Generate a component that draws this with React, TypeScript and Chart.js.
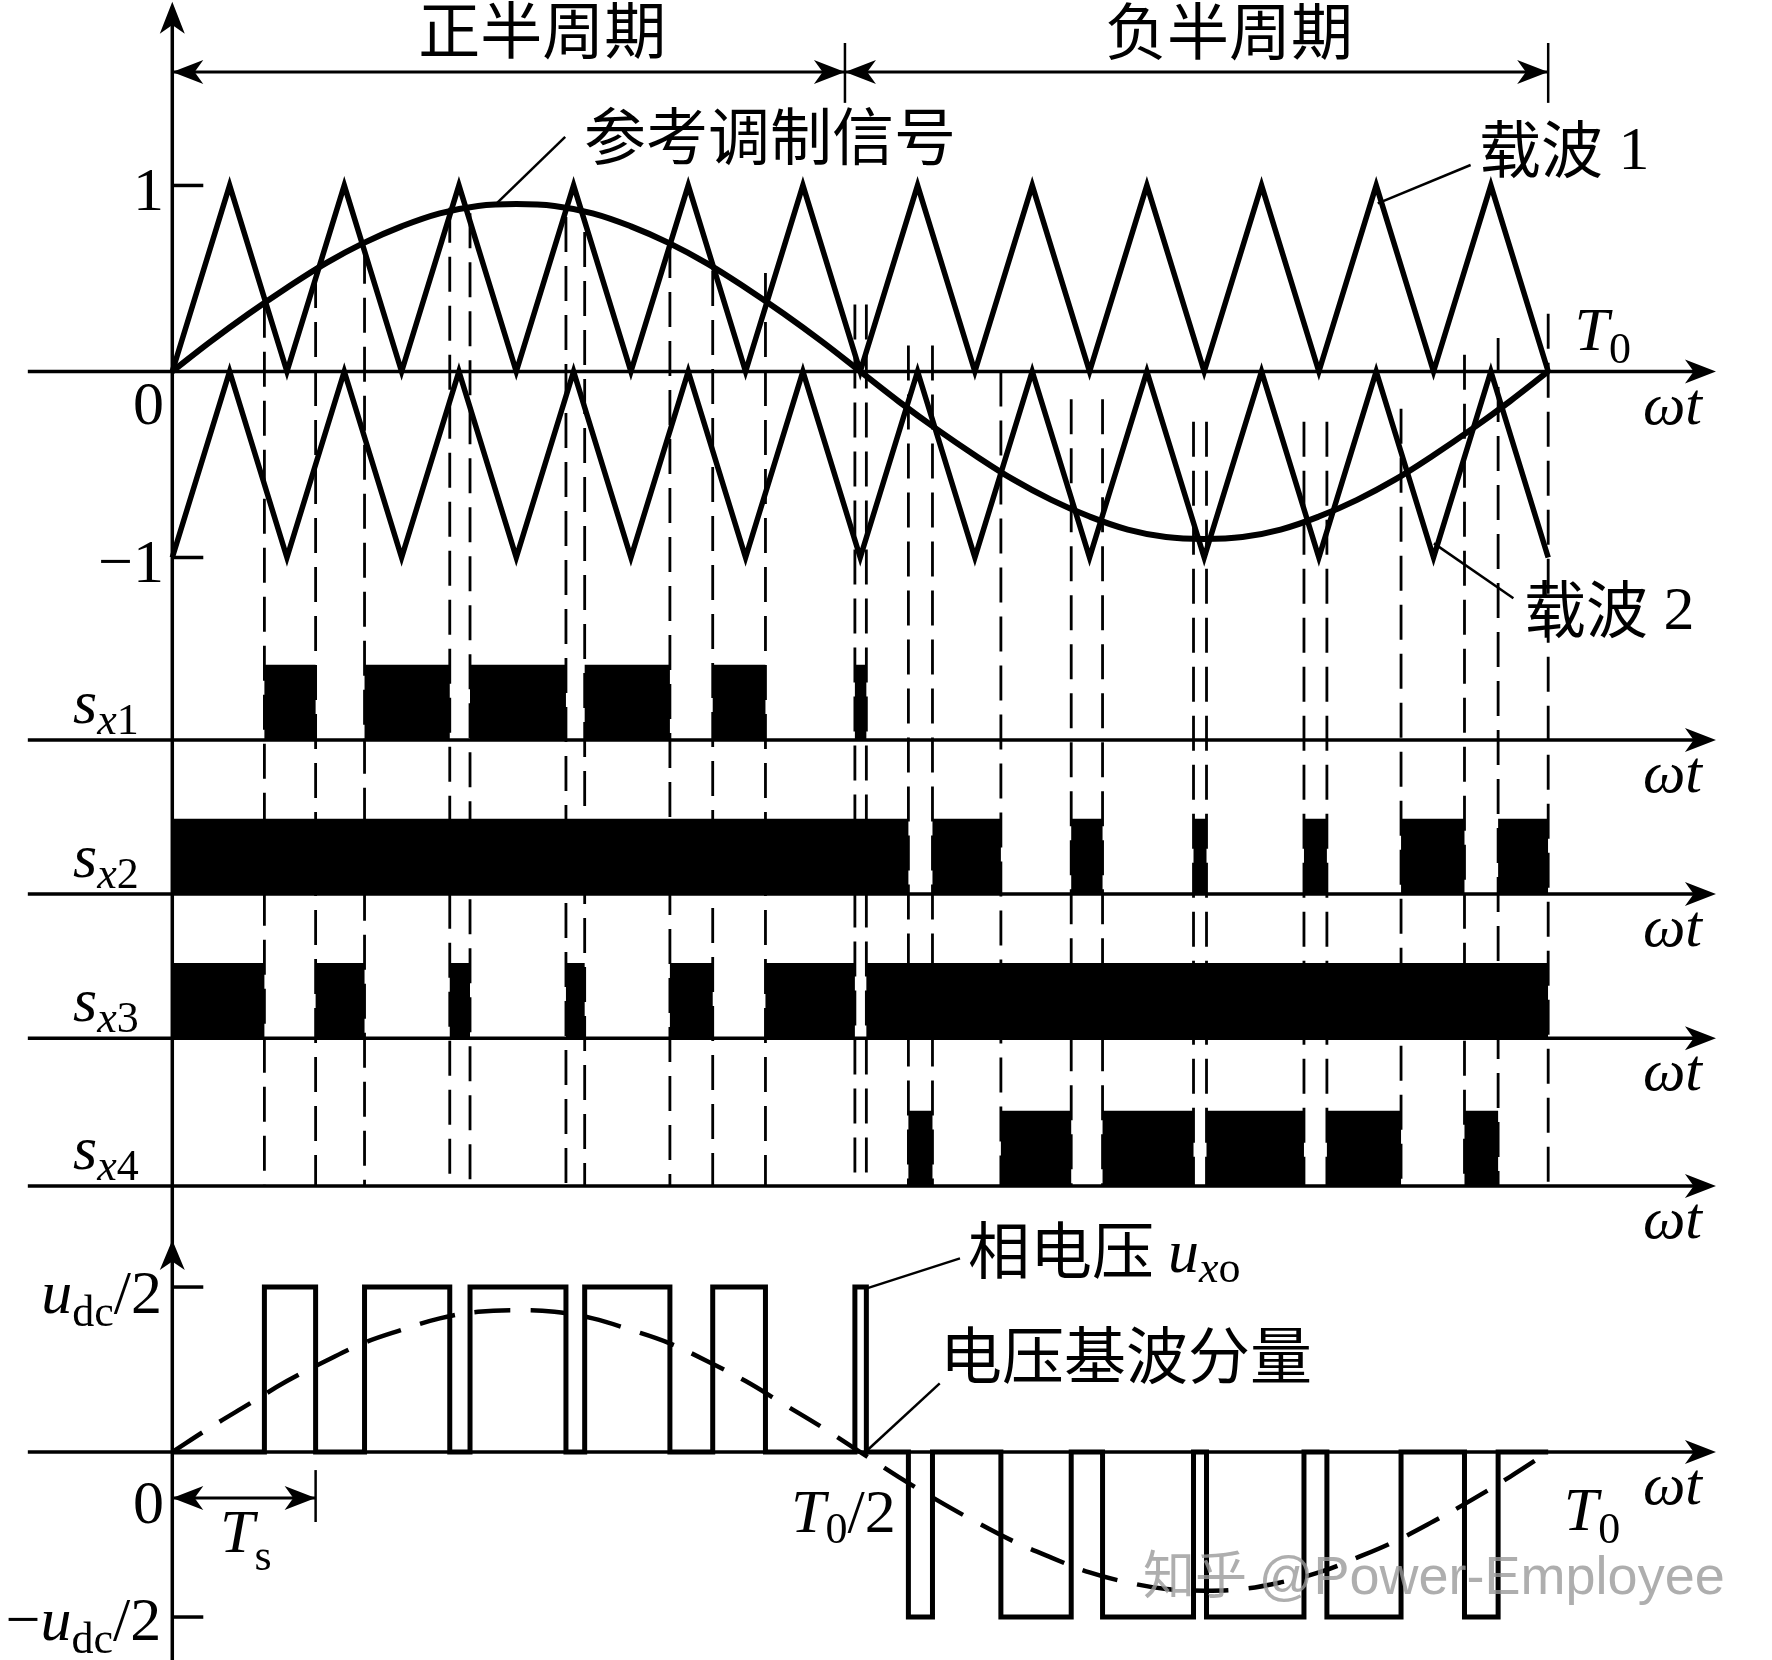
import { useEffect, useRef } from "react";
import { Chart, registerables } from "chart.js";

Chart.register(...registerables);

// ---------------- data (ωt in degrees, T0 = 360°) ----------------
const carrierAngles = [0, 15, 30, 45, 60, 75, 90, 105, 120, 135, 150, 165, 180, 195, 210, 225, 240, 255, 270, 285, 300, 315, 330, 345, 360];
const carrier1 = [0, 1, 0, 1, 0, 1, 0, 1, 0, 1, 0, 1, 0, 1, 0, 1, 0, 1, 0, 1, 0, 1, 0, 1, 0];
const carrier2 = [-1, 0, -1, 0, -1, 0, -1, 0, -1, 0, -1, 0, -1, 0, -1, 0, -1, 0, -1, 0, -1, 0, -1, 0, -1];

const refAngles = [0, 10, 20, 30, 40, 50, 60, 70, 80, 90, 100, 110, 120, 130, 140, 150, 160, 170, 180, 190, 200, 210, 220, 230, 240, 250, 260, 270, 280, 290, 300, 310, 320, 330, 340, 350, 360];
const refSignal = [0, 0.16, 0.31, 0.45, 0.58, 0.69, 0.78, 0.85, 0.89, 0.9, 0.89, 0.85, 0.78, 0.69, 0.58, 0.45, 0.31, 0.16, 0, -0.16, -0.31, -0.45, -0.58, -0.69, -0.78, -0.85, -0.89, -0.9, -0.89, -0.85, -0.78, -0.69, -0.58, -0.45, -0.31, -0.16, 0];
// fundamental of phase voltage, in units of udc/2
const fundamental = [0, 0.15, 0.29, 0.43, 0.55, 0.66, 0.74, 0.81, 0.85, 0.86, 0.85, 0.81, 0.74, 0.66, 0.55, 0.43, 0.29, 0.15, 0, -0.15, -0.29, -0.42, -0.54, -0.64, -0.73, -0.79, -0.83, -0.84, -0.83, -0.79, -0.73, -0.64, -0.54, -0.42, -0.29, -0.15, 0];

// switching intervals (on-states)
const sx1On: [number, number][] = [[24.1, 37.5], [50.3, 72.6], [77.9, 103.0], [107.9, 130.2], [141.4, 155.2], [178.6, 181.6]];
const sx2On: [number, number][] = [[0, 192.6], [198.9, 216.8], [235.2, 243.4], [267.2, 270.6], [296.1, 302.1], [321.5, 338.1], [346.9, 360]];
const sx3On: [number, number][] = [[0, 24.1], [37.5, 50.3], [72.6, 77.9], [103.0, 107.9], [130.2, 141.4], [155.2, 178.6], [181.6, 360]];
const sx4On: [number, number][] = [[192.6, 198.9], [216.8, 235.2], [243.4, 267.2], [270.6, 296.1], [302.1, 321.5], [338.1, 346.9]];

// dashed switching-instant lines: angle and where they start (top-panel units)
const switchAngles = [24.1, 37.5, 50.3, 72.6, 77.9, 103.0, 107.9, 130.2, 141.4, 155.2, 178.6, 181.6, 192.6, 198.9, 216.8, 235.2, 243.4, 267.2, 270.6, 296.1, 302.1, 321.5, 338.1, 346.9, 360];
const switchTops = [0.37, 0.53, 0.66, 0.88, 0.85, 0.83, 0.75, 0.69, 0.54, 0.53, 0.36, 0.36, 0.14, 0.14, 0.0, -0.15, -0.15, -0.27, -0.27, -0.27, -0.27, -0.2, 0.09, 0.18, 0.31];

// ---------------- layout (value space) ----------------
const X_MIN = -45.08;
const X_MAX = 418.56;
const Y_MIN = -6.927;
const Y_MAX = 1.997;
const ROW_SX1 = -1.981;
const ROW_SX2 = -2.809;
const ROW_SX3 = -3.585;
const ROW_SX4 = -4.379;
const OUT_BASE = -5.809;
const OUT_SCALE = 0.887;
const PULSE_H = 0.405;
const AXIS_START = -37.8;
const AXIS_TIP = 403.9;

const SERIF = "'Liberation Serif', 'Times New Roman', serif";
const CJK = "'Noto Sans CJK SC', 'Noto Sans CJK JP', sans-serif";
const SANS = "'Liberation Sans', Arial, sans-serif";

type Pt = { x: number; y: number | null };

function pulsePoints(on: [number, number][], base: number): Pt[] {
  const pts: Pt[] = [{ x: 0, y: base }];
  for (const [s, e] of on) {
    pts.push({ x: s, y: base }, { x: s, y: base + PULSE_H }, { x: e, y: base + PULSE_H }, { x: e, y: base });
  }
  pts.push({ x: 360, y: base });
  return pts;
}

function outputPoints(): Pt[] {
  const segs = [
    ...sx1On.map(([s, e]) => ({ s, e, v: 1 })),
    ...sx4On.map(([s, e]) => ({ s, e, v: -1 })),
  ].sort((a, b) => a.s - b.s);
  const pts: Pt[] = [{ x: 0, y: OUT_BASE }];
  for (const g of segs) {
    const lvl = OUT_BASE + g.v * OUT_SCALE;
    pts.push({ x: g.s, y: OUT_BASE }, { x: g.s, y: lvl }, { x: g.e, y: lvl }, { x: g.e, y: OUT_BASE });
  }
  pts.push({ x: 360, y: OUT_BASE });
  return pts;
}

type Part = { t: string; f: string; dy?: number };
function rich(ctx: CanvasRenderingContext2D, parts: Part[], x: number, y: number, align: "left" | "center" | "right") {
  let w = 0;
  for (const p of parts) {
    ctx.font = p.f;
    w += ctx.measureText(p.t).width;
  }
  let cx = align === "left" ? x : align === "center" ? x - w / 2 : x - w;
  ctx.textAlign = "left";
  ctx.textBaseline = "alphabetic";
  for (const p of parts) {
    ctx.font = p.f;
    ctx.fillText(p.t, cx, y + (p.dy || 0));
    cx += ctx.measureText(p.t).width;
  }
}

function arrowHead(ctx: CanvasRenderingContext2D, tx: number, ty: number, dx: number, dy: number, len = 31, half = 12) {
  const px = -dy, py = dx;
  ctx.beginPath();
  ctx.moveTo(tx, ty);
  ctx.lineTo(tx - dx * len + px * half, ty - dy * len + py * half);
  ctx.lineTo(tx - dx * len * 0.72, ty - dy * len * 0.72);
  ctx.lineTo(tx - dx * len - px * half, ty - dy * len - py * half);
  ctx.closePath();
  ctx.fill();
}

const annotate = {
  id: "annotate",
  afterDatasetsDraw(chart: any) {
    const ctx: CanvasRenderingContext2D = chart.ctx;
    const xs = chart.scales.x;
    const ys = chart.scales.y;
    const X = (v: number) => xs.getPixelForValue(v);
    const Y = (v: number) => ys.getPixelForValue(v);
    ctx.save();
    ctx.fillStyle = "#000";
    ctx.strokeStyle = "#000";
    ctx.lineCap = "butt";

    const seg = (x1: number, y1: number, x2: number, y2: number, w: number) => {
      ctx.lineWidth = w;
      ctx.beginPath();
      ctx.moveTo(x1, y1);
      ctx.lineTo(x2, y2);
      ctx.stroke();
    };

    // axis arrowheads
    arrowHead(ctx, X(0), Y(1.987), 0, -1, 32, 12.5);
    arrowHead(ctx, X(0), Y(-4.669), 0, -1, 30, 12.5);
    for (const b of [0, ROW_SX1, ROW_SX2, ROW_SX3, ROW_SX4, OUT_BASE]) {
      arrowHead(ctx, X(AXIS_TIP), Y(b), 1, 0);
    }

    // y-axis ticks
    const tickLen = 31;
    for (const v of [1, -1, OUT_BASE + OUT_SCALE, OUT_BASE - OUT_SCALE]) {
      seg(X(0), Y(v), X(0) + tickLen, Y(v), 3.5);
    }

    // half-period dimension arrows
    const yT = Y(1.61);
    seg(X(0), yT, X(176), yT, 3);
    seg(X(176), yT, X(360), yT, 3);
    arrowHead(ctx, X(0), yT, -1, 0);
    arrowHead(ctx, X(176), yT, 1, 0);
    arrowHead(ctx, X(176), yT, -1, 0);
    arrowHead(ctx, X(360), yT, 1, 0);
    seg(X(176), Y(1.766), X(176), Y(1.444), 2.5);
    seg(X(360), Y(1.766), X(360), Y(1.444), 2.5);

    // Ts dimension arrow
    const yS = Y(-6.056);
    seg(X(0), yS, X(37.5), yS, 3);
    arrowHead(ctx, X(0), yS, -1, 0);
    arrowHead(ctx, X(37.5), yS, 1, 0);
    seg(X(37.5), Y(-5.906), X(37.5), Y(-6.185), 2.5);

    // leader lines
    seg(X(102.8), Y(1.261), X(85.0), Y(0.906), 2.5);
    seg(X(339.7), Y(1.11), X(315.4), Y(0.904), 2.5);
    seg(X(330.1), Y(-0.924), X(350.9), Y(-1.219), 2.5);
    seg(X(181.7), Y(-4.929), X(206.1), Y(-4.768), 2.5);
    seg(X(200.8), Y(-5.44), X(180.5), Y(-5.825), 2.5);

    // texts
    const cjk = `62px ${CJK}`;
    const sMain = `62px ${SERIF}`;
    const sIt = `italic 62px ${SERIF}`;
    const sSub = `44px ${SERIF}`;
    const sSubIt = `italic 44px ${SERIF}`;

    rich(ctx, [{ t: "正半周期", f: cjk }], X(96.8), Y(1.707), "center");
    rich(ctx, [{ t: "负半周期", f: cjk }], X(276.5), Y(1.702), "center");
    rich(ctx, [{ t: "参考调制信号", f: cjk }], X(156.4), Y(1.137), "center");
    rich(ctx, [{ t: "载波", f: cjk }, { t: " 1", f: sMain, dy: -4 }], X(341.9), Y(1.067), "left");
    rich(ctx, [{ t: "载波", f: cjk }, { t: " 2", f: sMain, dy: -4 }], X(353.7), Y(-1.406), "left");
    rich(ctx, [{ t: "相电压 ", f: cjk }, { t: "u", f: sIt, dy: -2 }, { t: "x", f: sSubIt, dy: 8 }, { t: "o", f: sSub, dy: 8 }], X(208.2), Y(-4.852), "left");
    rich(ctx, [{ t: "电压基波分量", f: cjk }], X(200.9), Y(-5.417), "left");

    // y tick labels
    const R = X(-2.17);
    rich(ctx, [{ t: "1", f: sMain }], R, Y(0.868), "right");
    rich(ctx, [{ t: "0", f: sMain }], R, Y(-0.282), "right");
    rich(ctx, [{ t: "\u22121", f: sMain }], R, Y(-1.132), "right");
    rich(ctx, [{ t: "0", f: sMain }], R, Y(-6.191), "right");
    rich(ctx, [{ t: "u", f: sIt }, { t: "dc", f: sSub, dy: 13 }, { t: "/2", f: sMain }], X(-2.7), Y(-5.062), "right");
    rich(ctx, [{ t: "\u2212", f: sMain }, { t: "u", f: sIt }, { t: "dc", f: sSub, dy: 13 }, { t: "/2", f: sMain }], X(-2.9), Y(-6.82), "right");

    // switch labels
    const rows: [number, string][] = [[ROW_SX1, "1"], [ROW_SX2, "2"], [ROW_SX3, "3"], [ROW_SX4, "4"]];
    for (const [b, n] of rows) {
      rich(ctx, [{ t: "s", f: `italic 62px ${SERIF}` }, { t: "x", f: sSubIt, dy: 11 }, { t: n, f: sSub, dy: 11 }], X(-25.98), Y(b + 0.091), "left");
    }

    // ωt labels
    for (const b of [0, ROW_SX1, ROW_SX2, ROW_SX3, ROW_SX4, OUT_BASE]) {
      rich(ctx, [{ t: "\u03c9t", f: `italic 60px ${SERIF}` }], X(384.8), Y(b - 0.28), "left");
    }

    // time labels
    rich(ctx, [{ t: "T", f: sIt }, { t: "0", f: sSub, dy: 13 }], X(366.9), Y(0.116), "left");
    rich(ctx, [{ t: "T", f: sIt }, { t: "0", f: sSub, dy: 11 }, { t: "/2", f: sMain }], X(161.9), Y(-6.239), "left");
    rich(ctx, [{ t: "T", f: sIt }, { t: "0", f: sSub, dy: 13 }], X(364.1), Y(-6.228), "left");
    rich(ctx, [{ t: "T", f: sIt }, { t: "s", f: sSub, dy: 18 }], X(12.5), Y(-6.347), "left");

    // watermark
    ctx.globalAlpha = 0.8;
    ctx.fillStyle = "#9a9a9a";
    rich(ctx, [{ t: "知乎 ", f: `52px ${CJK}` }, { t: "@Power-Employee", f: `54px ${SANS}` }], X(254.0), Y(-6.57), "left");
    ctx.restore();
  },
};

export default function App() {
  const ref = useRef<HTMLCanvasElement | null>(null);
  useEffect(() => {
    document.body.style.margin = "0";
    const canvas = ref.current;
    if (!canvas) return;

    const base = {
      borderColor: "#000",
      backgroundColor: "#000",
      pointRadius: 0,
      borderWidth: 3,
      tension: 0,
      fill: false,
      borderCapStyle: "butt",
      borderJoinStyle: "miter",
    };
    const ds = (data: Pt[], extra: any = {}) => ({ ...base, data, ...extra });

    const datasets: any[] = [];
    datasets.push(ds(outputPoints(), { borderWidth: 5 }));
    datasets.push(ds(refAngles.map((a, i) => ({ x: a, y: OUT_BASE + fundamental[i] * OUT_SCALE })), { borderWidth: 4.5, borderDash: [36, 20], tension: 0.4, borderJoinStyle: "round" }));
    datasets.push(ds(refAngles.map((a, i) => ({ x: a, y: refSignal[i] })), { borderWidth: 6, tension: 0.4, borderJoinStyle: "round" }));
    datasets.push(ds(carrierAngles.map((a, i) => ({ x: a, y: carrier1[i] })), { borderWidth: 5.5 }));
    datasets.push(ds(carrierAngles.map((a, i) => ({ x: a, y: carrier2[i] })), { borderWidth: 5.5 }));
    const pulseRows: [[number, number][], number][] = [[sx1On, ROW_SX1], [sx2On, ROW_SX2], [sx3On, ROW_SX3], [sx4On, ROW_SX4]];
    for (const [on, b] of pulseRows) {
      datasets.push(ds(pulsePoints(on, b), { borderWidth: 0, borderColor: "rgba(0,0,0,0)", fill: { value: b } }));
    }
    for (const b of [0, ROW_SX1, ROW_SX2, ROW_SX3, ROW_SX4, OUT_BASE]) {
      datasets.push(ds([{ x: AXIS_START, y: b }, { x: AXIS_TIP - 4, y: b }], { borderWidth: 3.5 }));
    }
    datasets.push(ds([{ x: 0, y: 1.95 }, { x: 0, y: Y_MIN }], { borderWidth: 3.5 }));
    switchAngles.forEach((a, i) => {
      datasets.push(ds([{ x: a, y: switchTops[i] }, { x: a, y: ROW_SX4 }], { borderWidth: 2.8, borderDash: [35, 14] }));
    });

    const chart = new Chart(canvas, {
      type: "line",
      data: { datasets },
      options: {
        animation: false,
        responsive: false,
        maintainAspectRatio: false,
        devicePixelRatio: 1,
        events: [],
        layout: { padding: 0 },
        plugins: { legend: { display: false }, tooltip: { enabled: false } },
        scales: {
          x: { type: "linear", min: X_MIN, max: X_MAX, display: false },
          y: { type: "linear", min: Y_MIN, max: Y_MAX, display: false },
        },
      },
      plugins: [annotate],
    } as any);
    return () => chart.destroy();
  }, []);

  return (
    <div style={{ width: 1772, height: 1660, background: "#fff" }}>
      <canvas ref={ref} width={1772} height={1660} style={{ display: "block", width: 1772, height: 1660 }} />
    </div>
  );
}
